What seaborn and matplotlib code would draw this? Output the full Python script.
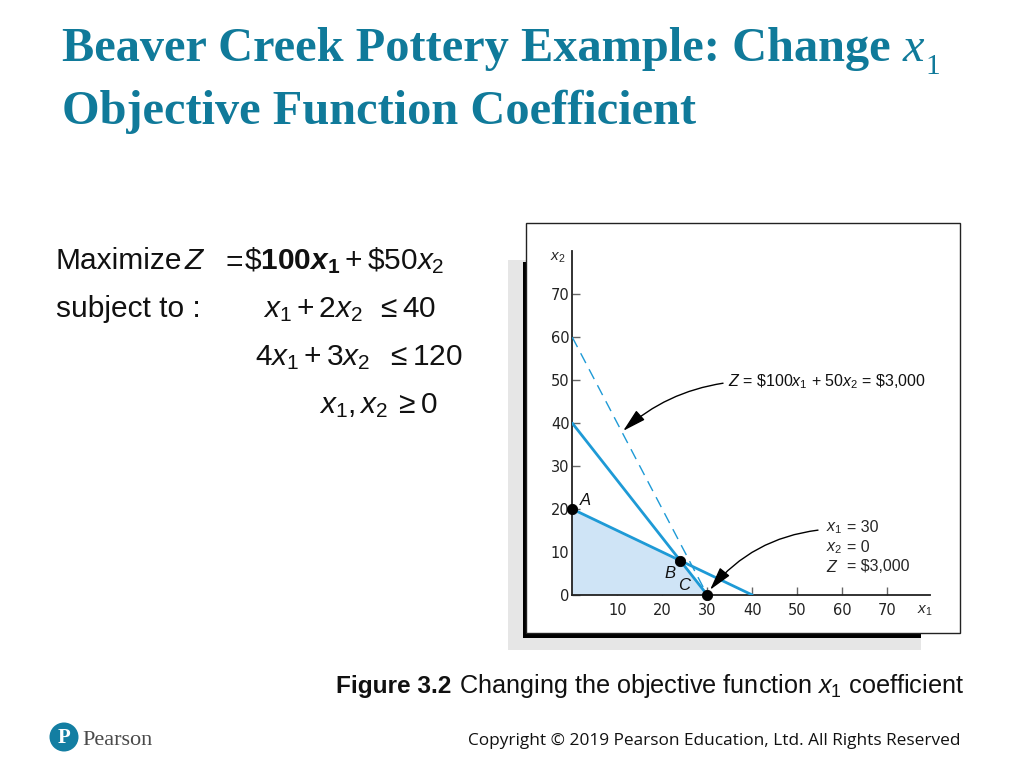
import matplotlib
matplotlib.use("Agg")
import matplotlib.pyplot as plt
from matplotlib.patches import Rectangle, Ellipse
import seaborn as sns
import pandas as pd

# ---------------- data ----------------
constraint1_x = [0, 40]      # x1 + 2x2 = 40
constraint1_y = [20, 0]
constraint2_x = [0, 30]      # 4x1 + 3x2 = 120
constraint2_y = [40, 0]
objective_x = [0, 30]        # 100x1 + 50x2 = 3000
objective_y = [60, 0]
feasible_x = [0, 0, 24, 30]
feasible_y = [0, 20, 8, 0]
point_names = ["A", "B", "C"]
point_x = [0, 24, 30]
point_y = [20, 8, 0]
xtick_values = [10, 20, 30, 40, 50, 60, 70]
ytick_values = [0, 10, 20, 30, 40, 50, 60, 70]

sns.set_theme(style="white")
plt.rcParams['font.family'] = ['Liberation Sans', 'DejaVu Sans']
plt.rcParams['mathtext.fontset'] = 'custom'
plt.rcParams['mathtext.rm'] = 'Liberation Sans'
plt.rcParams['mathtext.it'] = 'Liberation Sans:italic'
plt.rcParams['mathtext.bf'] = 'Liberation Sans:bold'
plt.rcParams['mathtext.bfit'] = 'Liberation Sans:bold:italic'

W, H = 1024, 768
fig = plt.figure(figsize=(W / 100, H / 100), dpi=100)
fig.patch.set_facecolor("white")


def P(x, y):
    return x / W, 1 - y / H


def R(x0, y0, x1, y1, **kw):
    return Rectangle((x0 / W, 1 - y1 / H), (x1 - x0) / W, (y1 - y0) / H,
                     transform=fig.transFigure, **kw)


TEAL = "#107a9a"
BLUE = "#1e9ad6"

# ---------------- title ----------------
TS = 34.8
t1 = fig.text(*P(62, 61), "Beaver Creek Pottery Example: Change ", family="Liberation Serif",
              fontweight="bold", fontsize=TS, color=TEAL, va="baseline", ha="left")
fig.text(*P(62, 124), "Objective Function Coefficient", family="Liberation Serif",
         fontweight="bold", fontsize=TS, color=TEAL, va="baseline", ha="left")
renderer = fig.canvas.get_renderer()
bb = t1.get_window_extent(renderer)
xe = bb.x1
tx = fig.text(xe / W, 1 - 61 / H, "x", family="Liberation Serif", style="italic",
              fontsize=TS, color=TEAL, va="baseline", ha="left")
bbx = tx.get_window_extent(renderer)
fig.text((bbx.x1 + 1) / W, 1 - 74 / H, "1", family="Liberation Serif",
         fontsize=21, color=TEAL, va="baseline", ha="left")

# ---------------- model text ----------------
EQ = 21.5
kw = dict(fontsize=EQ, color="#111111", va="baseline", ha="left")
fig.text(*P(55, 269), "Maximize", **kw)
fig.text(*P(184, 269), r"$Z$", **kw)
fig.text(*P(221, 269), r"$=$", **kw)
fig.text(*P(244, 269), r"$\$\mathbf{100}\mathbfit{x}_{\mathbf{1}}+\$50x_2$", **kw)
fig.text(*P(56, 317), "subject to :", **kw)
fig.text(*P(263, 317), r"$x_1+2x_2$", **kw)
fig.text(*P(376, 317), r"$\leq 40$", **kw)
fig.text(*P(255, 365), r"$4x_1+3x_2$", **kw)
fig.text(*P(386, 365), r"$\leq 120$", **kw)
fig.text(*P(319, 413), r"$x_1, x_2$", **kw)
fig.text(*P(394, 413), r"$\geq 0$", **kw)

# ---------------- framed chart box ----------------
fig.patches.append(R(508, 260, 921, 650, facecolor="#e6e6e6", edgecolor="none", zorder=0))
fig.patches.append(R(523, 262, 921, 638, facecolor="black", edgecolor="none", zorder=1))
fig.patches.append(R(526, 223, 960, 633, facecolor="white", edgecolor="#222222",
                     linewidth=1.0, zorder=2))

# ---------------- chart ----------------
x0px, y0px = 572.3, 595.0
sx, sy = 4.5, 4.296
xmax, ymax = 79.5, 80
ax = fig.add_axes([x0px / W, 1 - y0px / H, xmax * sx / W, ymax * sy / H])
ax.set_facecolor("none")
ax.set_zorder(3)

ax.fill(feasible_x, feasible_y, color="#cfe4f6", linewidth=0, zorder=1)
sns.lineplot(x=constraint1_x, y=constraint1_y, ax=ax, color=BLUE, linewidth=2.0,
             sort=False, zorder=3)
sns.lineplot(x=constraint2_x, y=constraint2_y, ax=ax, color=BLUE, linewidth=2.0,
             sort=False, zorder=3)
sns.lineplot(x=objective_x, y=objective_y, ax=ax, color=BLUE, linewidth=1.0,
             sort=False, zorder=3, linestyle=(0, (8, 5)))
pts = pd.DataFrame({"x1": point_x, "x2": point_y, "name": point_names})
sns.scatterplot(data=pts, x="x1", y="x2", ax=ax, color="black", s=55,
                edgecolor="black", zorder=5, clip_on=False, legend=False)

label_pos = {"A": (2.8, 22.1), "B": (21.7, 5.1), "C": (24.8, 2.1)}
for name in point_names:
    lx, ly = label_pos[name]
    ax.text(lx, ly, name, style="italic", fontsize=12, color="#111111",
            ha="center", va="center", zorder=6)

ax.set_xlim(0, xmax)
ax.set_ylim(0, ymax)
ax.set_xticks(xtick_values)
ax.set_yticks(ytick_values)
ax.set_xticklabels([str(v) for v in xtick_values])
ax.set_yticklabels([str(v) for v in ytick_values])
for s in ["top", "right"]:
    ax.spines[s].set_visible(False)
for s in ["left", "bottom"]:
    ax.spines[s].set_color("#222222")
    ax.spines[s].set_linewidth(1.3)
ax.tick_params(axis="both", direction="in", length=6, width=1, color="#666666",
               labelcolor="#222222", labelsize=10.5)
ax.tick_params(axis="x", pad=6, bottom=True)
ax.tick_params(axis="y", pad=2, left=True)
for lab in ax.get_xticklabels() + ax.get_yticklabels():
    lab.set_family("DejaVu Sans")
ax.set_xlabel("")
ax.set_ylabel("")

ax.text(-3.2, 78.4, r"$x_2$", fontsize=11, ha="center", va="center", clip_on=False)
ax.text(78.4, -3.7, r"$x_1$", fontsize=11, ha="center", va="center", clip_on=False)

# annotations
ARROW = "-|>,head_length=1.2,head_width=0.32"
ax.text(34.6, 49.6, r"$Z$ = \$100$x_1$ + 50$x_2$ = \$3,000", fontsize=11.5,
        ha="left", va="center", color="#111111")
ax.annotate("", xy=(11.3, 38.2), xytext=(33.5, 49.3),
            arrowprops=dict(arrowstyle=ARROW, color="black", lw=1.0, shrinkA=0, shrinkB=0,
                            connectionstyle="arc3,rad=0.15"))
ax.text(56.4, 15.6, r"$x_1$", fontsize=11.5, ha="left", va="center")
ax.text(56.4, 11.0, r"$x_2$", fontsize=11.5, ha="left", va="center")
ax.text(56.4, 6.6, r"$Z$", fontsize=11.5, ha="left", va="center")
ax.text(61.0, 15.6, "= 30", fontsize=11.5, ha="left", va="center")
ax.text(61.0, 11.0, "= 0", fontsize=11.5, ha="left", va="center")
ax.text(61.0, 6.6, "= \\$3,000", fontsize=11.5, ha="left", va="center")
ax.annotate("", xy=(30.6, 1.2), xytext=(54.6, 15.1),
            arrowprops=dict(arrowstyle=ARROW, color="black", lw=1.0, shrinkA=0, shrinkB=0,
                            connectionstyle="arc3,rad=0.2"))

# ---------------- caption ----------------
cb = fig.text(*P(336, 693), "Figure 3.2", fontweight="bold", fontsize=17.6,
              color="#111111", va="baseline", ha="left")
bbc = cb.get_window_extent(renderer)
fig.text((bbc.x1 + 8) / W, 1 - 693 / H, r"Changing the objective function $x_1$ coefficient",
         fontsize=18.2, color="#111111", va="baseline", ha="left")

# ---------------- footer ----------------
fig.patches.append(Ellipse(P(64, 737), 29 / W, 29 / H, transform=fig.transFigure,
                           facecolor="#137ea2", edgecolor="none", zorder=3))
fig.text(*P(64, 738), "P", family="Liberation Serif", fontweight="bold", fontsize=15,
         color="white", ha="center", va="center", zorder=4)
fig.text(*P(82, 745), "Pearson", family="Liberation Serif", fontsize=16,
         color="#4a4a4a", ha="left", va="baseline")
fig.text(*P(961, 745), "Copyright \u00a9 2019 Pearson Education, Ltd. All Rights Reserved",
         family="Open Sans", fontsize=12.4, color="#111111", ha="right", va="baseline")

fig.savefig("out.png", dpi=100)
